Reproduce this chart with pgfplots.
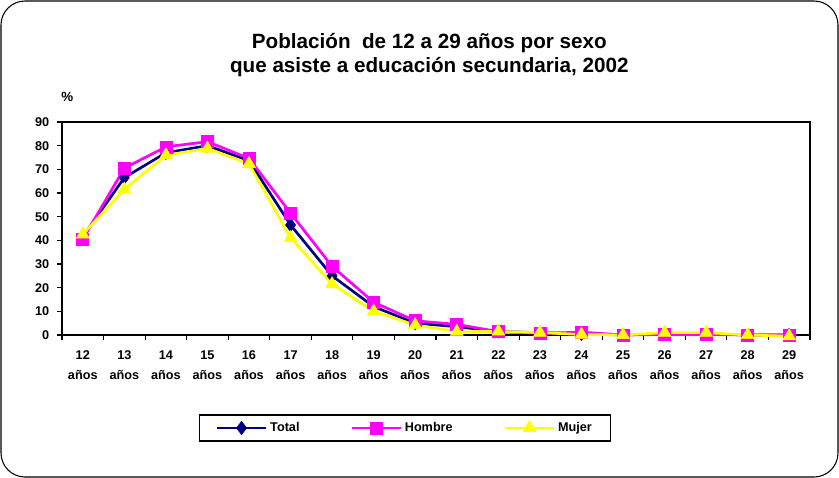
\documentclass[border=0pt]{standalone}
\usepackage{pgfplots}
\pgfplotsset{compat=1.18}
\usepackage{fontspec}
\setmainfont{Liberation Sans}

\definecolor{cTotal}{RGB}{0,0,128}
\definecolor{cHombre}{RGB}{255,0,255}
\definecolor{cMujer}{RGB}{255,255,0}

\begin{document}
\begin{tikzpicture}
\useasboundingbox (0,0) rectangle (629.25pt,358.5pt);
\draw[black,line width=0.8pt,rounded corners=18pt] (0.75pt,0.75pt) rectangle (628.5pt,357.75pt);
\node[align=center,font=\bfseries\fontsize{15.5}{18}\selectfont] at (322pt,317.5pt)
  {Población\ \ de 12 a 29 años por sexo\\que asiste a educación secundaria, 2002};
\node[font=\bfseries\fontsize{10}{12}\selectfont] at (50.5pt,285.5pt) {\%};

\begin{axis}[
    at={(46.5pt,107.25pt)}, anchor=south west,
    scale only axis,
    width=561pt, height=159.75pt,
    xmin=-0.5, xmax=17.5,
    ymin=0, ymax=90,
    ytick={0,10,...,90},
    xtick={0,...,17},
    xticklabels={12\\años,13\\años,14\\años,15\\años,16\\años,17\\años,18\\años,19\\años,20\\años,21\\años,22\\años,23\\años,24\\años,25\\años,26\\años,27\\años,28\\años,29\\años},
    major x tick style={draw=none},
    minor xtick={-0.5,0.5,...,17.5},
    minor tick length=4pt,
    major tick length=4pt,
    tick align=outside,
    xtick pos=bottom, ytick pos=left,
    tick style={black,line width=0.8pt},
    axis line style={black,line width=1.3pt},
    x tick label style={align=center,font=\bfseries\fontsize{9.5}{15}\selectfont,yshift=-4pt},
    y tick label style={font=\bfseries\fontsize{9.5}{11}\selectfont,xshift=-2pt},
    /pgf/number format/assume math mode=true,
    clip=false,
    legend columns=3,
    legend style={at={(0.4586,-0.4366)}, anchor=center, draw=black, line width=1.3pt,
        font=\bfseries\fontsize{9.5}{11}\selectfont,
        /tikz/every even column/.append style={column sep=36pt},
        inner xsep=12pt, inner ysep=3.5pt},
    legend image code/.code={
        \draw[mark repeat=2,mark phase=2,#1] plot coordinates {(0cm,0cm) (0.65cm,0cm) (1.3cm,0cm)};},
]
\addplot[cTotal, line width=2pt, mark=diamond*, mark size=5pt, mark options={solid,line width=0.5pt}] coordinates {
 (0,41.5) (1,66.5) (2,77) (3,80) (4,73.7) (5,46.5) (6,25) (7,12) (8,5) (9,3.5)
 (10,1.5) (11,1) (12,0.5) (13,0) (14,0.5) (15,0.5) (16,0) (17,0)
};
\addlegendentry{Total}
\addplot[cHombre, line width=2pt, mark=square*, mark size=4.5pt, mark options={solid,line width=0.5pt}] coordinates {
 (0,40.5) (1,70.5) (2,79.5) (3,81.7) (4,74.6) (5,51.5) (6,29) (7,13.8) (8,6) (9,4.5)
 (10,1.4) (11,0.7) (12,1.2) (13,0) (14,0.2) (15,0.2) (16,0) (17,0)
};
\addlegendentry{Hombre}
\addplot[cMujer, line width=2pt, mark=triangle*, mark size=5.5pt, mark options={solid,line width=0.5pt}] coordinates {
 (0,42.5) (1,61.5) (2,76) (3,78.8) (4,72.3) (5,41) (6,21.5) (7,10) (8,4.2) (9,1.4)
 (10,1.5) (11,1) (12,0.2) (13,0) (14,1) (15,1) (16,0) (17,-0.5)
};
\addlegendentry{Mujer}
\end{axis}
\end{tikzpicture}
\end{document}
